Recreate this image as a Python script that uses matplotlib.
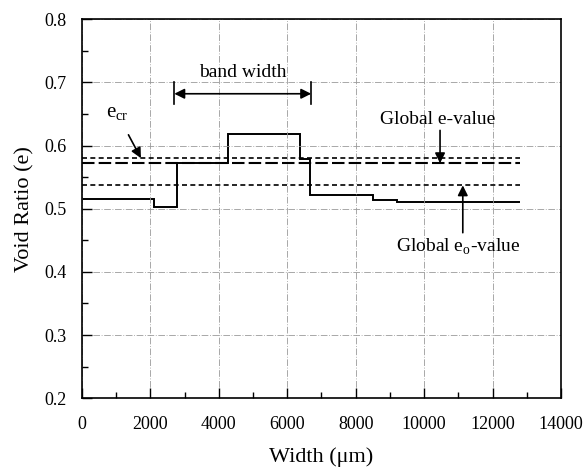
import matplotlib.pyplot as plt
from matplotlib.ticker import MultipleLocator

# Step profile of void ratio across the specimen width
edges = [0, 2100, 2770, 4260, 6380, 6670, 8500, 9200, 12800]
void_ratio = [0.515, 0.502, 0.572, 0.619, 0.578, 0.522, 0.513, 0.511]

# Reference levels
line_x = [0, 12800]
e_cr = 0.580
global_e = 0.572
global_e0 = 0.537

# Band width marker
band_left, band_right, band_y = 2700, 6700, 0.682

plt.rcParams['font.family'] = ['Liberation Serif', 'DejaVu Serif']

fig = plt.figure(figsize=(5.85, 4.69), dpi=100)
ax = fig.add_axes([0.140, 0.151, 0.819, 0.808])

ax.stairs(void_ratio, edges, color='black', lw=1.4, baseline=None)
ax.plot(line_x, [e_cr, e_cr], color='black', lw=1.2, ls=(0, (3, 2)))
ax.plot(line_x, [global_e, global_e], color='black', lw=1.5, ls=(0, (6, 2)))
ax.plot(line_x, [global_e0, global_e0], color='black', lw=1.2, ls=(0, (3, 2)))

ax.set_xlim(0, 14000)
ax.set_ylim(0.2, 0.8)
ax.xaxis.set_major_locator(MultipleLocator(2000))
ax.xaxis.set_minor_locator(MultipleLocator(1000))
ax.yaxis.set_major_locator(MultipleLocator(0.1))
ax.yaxis.set_minor_locator(MultipleLocator(0.05))
ax.tick_params(which='both', direction='in', top=False, right=False, labelsize=13)
ax.tick_params(which='major', length=7, width=1.0)
ax.tick_params(which='minor', length=4, width=1.0)
ax.tick_params(axis='x', which='major', pad=13)
ax.tick_params(axis='y', which='major', pad=11)
ax.grid(True, which='major', color='#9a9a9a', lw=0.6, ls=(0, (8, 2, 1, 2)))
for side in ax.spines.values():
    side.set_linewidth(1.2)

ax.set_xlabel('Width (\u03bcm)', fontsize=16, labelpad=10)
ax.set_ylabel('Void Ratio (e)', fontsize=16, labelpad=7)

arrow = dict(arrowstyle='-|>', color='black', lw=1.2, mutation_scale=15)

# band width double arrow
ax.annotate('', xy=(band_left, band_y), xytext=(band_right, band_y),
            arrowprops=dict(arrowstyle='<|-|>', color='black', lw=1.2, mutation_scale=15,
                            shrinkA=0, shrinkB=0))
for bx in (band_left, band_right):
    ax.plot([bx, bx], [0.665, 0.701], color='black', lw=1.2)
ax.text(4710, 0.716, 'band width', ha='center', va='center', fontsize=14)

ax.annotate('e$_{\\mathregular{cr}}$', xy=(1725, e_cr), xytext=(1035, 0.650),
            ha='center', va='center', fontsize=15,
            arrowprops=dict(arrow, shrinkA=7, shrinkB=0))

ax.annotate('', xy=(10465, global_e), xytext=(10465, 0.624),
            arrowprops=dict(arrow, shrinkA=0, shrinkB=0))
ax.text(10400, 0.641, 'Global e-value', ha='center', va='center', fontsize=14)

ax.annotate('', xy=(11130, global_e0), xytext=(11130, 0.462),
            arrowprops=dict(arrow, shrinkA=0, shrinkB=0))
ax.text(11000, 0.440, 'Global e$_{\\mathregular{o}}$-value', ha='center', va='center', fontsize=14)

fig.savefig('out.png', dpi=100)
